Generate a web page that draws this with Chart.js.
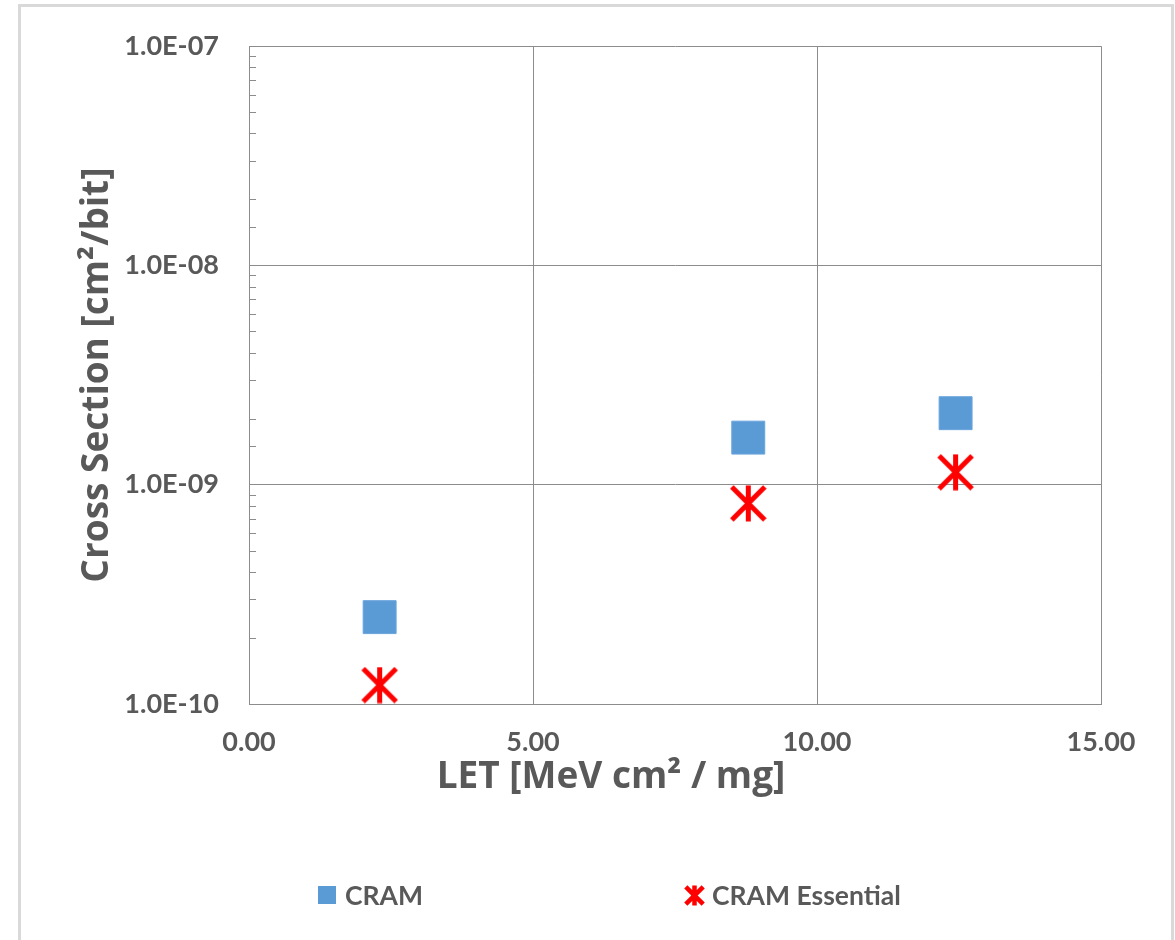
<!DOCTYPE html>
<html><head><meta charset="utf-8">
<script src="https://cdn.jsdelivr.net/npm/chart.js@4.4.1/dist/chart.umd.min.js"></script>
<style>
html,body{margin:0;padding:0;background:#fff;width:1175px;height:940px;overflow:hidden;}
#wrap{position:relative;width:1175px;height:940px;}
#frame{position:absolute;left:18px;top:4px;width:1156px;height:1000px;box-sizing:border-box;border:3px solid #d9d9d9;border-bottom:none;pointer-events:none;}
#c{position:absolute;left:0;top:0;}
#legend{position:absolute;left:0;top:0;width:1175px;height:940px;pointer-events:none;font-family:Lato, sans-serif;font-weight:bold;font-size:26.5px;color:#595959;}
.li{position:absolute;display:flex;align-items:center;white-space:nowrap;height:36px;line-height:36px;}
</style></head>
<body><div id="wrap"><canvas id="c" width="1175" height="940"></canvas><div id="frame"></div><div id="legend"></div></div>
<script>
// ---- data ----
const letValues = [2.30, 8.79, 12.44];
const cramValues = [2.49e-10, 1.64e-9, 2.12e-9];
const cramEssentialValues = [1.22e-10, 8.22e-10, 1.14e-9];
const seriesNames = ['CRAM', 'CRAM Essential'];
const xTickValues = [0, 5, 10, 15];
const yDecadeValues = [1e-10, 1e-9, 1e-8, 1e-7];
const xTitleText = 'LET [MeV cm\u00B2 / mg]';
const yTitleText = 'Cross Section [cm\u00B2/bit]';

// ---- styles ----
const TEXT = '#595959';
const GRID = '#8c8c8c';
const FONT = 'Lato, sans-serif';
const TITLE_FONT = '"Open Sans", sans-serif';

function isDecade(v){
  const e = Math.round(Math.log10(v));
  return Math.abs(v / Math.pow(10, e) - 1) < 1e-6;
}
function fmtDecade(v){
  const e = Math.round(Math.log10(v));
  const a = Math.abs(e);
  return '1.0E' + (e < 0 ? '-' : '+') + (a < 10 ? '0' + a : '' + a);
}
function makeStar(size, lw){
  const c = document.createElement('canvas');
  c.width = size; c.height = size;
  const g = c.getContext('2d');
  g.strokeStyle = '#ff0000'; g.lineWidth = lw; g.lineCap = 'butt';
  const m = lw * 0.4, s = size;
  g.beginPath();
  g.moveTo(m, m); g.lineTo(s - m, s - m);
  g.moveTo(s - m, m); g.lineTo(m, s - m);
  g.moveTo(s / 2, 0.5); g.lineTo(s / 2, s - 0.5);
  g.stroke();
  return c;
}
const starImg = makeStar(37, 5);
const starLegendImg = makeStar(21, 4.5);

const minorTicks = {
  id: 'minorTicks',
  beforeDatasetsDraw(chart){
    const y = chart.scales.y, ctx = chart.ctx, left = chart.chartArea.left;
    ctx.save();
    ctx.strokeStyle = GRID; ctx.lineWidth = 1;
    y.ticks.forEach(t => {
      if (!isDecade(t.value)) {
        const py = Math.round(y.getPixelForValue(t.value)) + 0.5;
        ctx.beginPath(); ctx.moveTo(left, py); ctx.lineTo(left + 7, py); ctx.stroke();
      }
    });
    ctx.restore();
  }
};

const xTitle = {
  id: 'xTitle',
  afterDraw(chart){
    const ctx = chart.ctx;
    ctx.save();
    ctx.font = 'bold 37px ' + TITLE_FONT;
    ctx.fillStyle = TEXT;
    ctx.textAlign = 'center';
    ctx.textBaseline = 'alphabetic';
    ctx.fillText(xTitleText, 611, 788);
    ctx.restore();
  }
};

const legendLeft = [318, 684];
const legendTop = 877;
const htmlLegend = {
  id: 'htmlLegend',
  afterUpdate(chart){
    const box = document.getElementById('legend');
    box.innerHTML = '';
    const items = Chart.defaults.plugins.legend.labels.generateLabels(chart);
    items.forEach((it, i) => {
      const d = document.createElement('div');
      d.className = 'li';
      d.style.left = legendLeft[i] + 'px';
      d.style.top = legendTop + 'px';
      let mk;
      if (i === 0) {
        mk = document.createElement('div');
        mk.style.cssText = 'width:18px;height:18px;background:' + it.fillStyle + ';margin-right:9px;';
      } else {
        mk = starLegendImg;
        mk.style.marginRight = '7px';
      }
      d.appendChild(mk);
      const sp = document.createElement('span');
      sp.textContent = it.text;
      d.appendChild(sp);
      box.appendChild(d);
    });
  }
};

const chart = new Chart(document.getElementById('c'), {
  type: 'scatter',
  data: {
    datasets: [
      {
        label: seriesNames[0],
        data: letValues.map((x, i) => ({x: x, y: cramValues[i]})),
        pointStyle: 'rect', pointRadius: 23.3,
        backgroundColor: '#5b9bd5', borderColor: '#6aa5dc', borderWidth: 1
      },
      {
        label: seriesNames[1],
        data: letValues.map((x, i) => ({x: x, y: cramEssentialValues[i]})),
        pointStyle: starImg, pointRadius: 18,
        backgroundColor: '#ff0000', borderColor: '#ff0000'
      }
    ]
  },
  options: {
    responsive: false, animation: false, events: [],
    layout: {padding: {left: 75, right: 74, top: 44, bottom: 136}},
    plugins: {legend: {display: false}, tooltip: {enabled: false}},
    scales: {
      x: {
        type: 'linear', min: xTickValues[0], max: xTickValues[xTickValues.length - 1],
        afterBuildTicks: s => { s.ticks = xTickValues.map(v => ({value: v})); },
        ticks: {callback: v => Number(v).toFixed(2), font: {family: FONT, weight: 'bold', size: 27}, color: TEXT, padding: 22, maxRotation: 0, autoSkip: false},
        grid: {color: GRID, drawTicks: false, lineWidth: 1},
        border: {color: GRID},
        afterFit: s => { s.height = 100; }
      },
      y: {
        type: 'logarithmic', min: yDecadeValues[0], max: yDecadeValues[yDecadeValues.length - 1],
        ticks: {callback: v => isDecade(v) ? fmtDecade(v) : '', autoSkip: false, font: {family: FONT, weight: 'bold', size: 27}, color: TEXT, padding: 30},
        grid: {color: c => (c.tick && isDecade(c.tick.value)) ? GRID : 'rgba(0,0,0,0)', drawTicks: false, lineWidth: 1},
        border: {color: GRID},
        title: {display: true, text: yTitleText, font: {family: TITLE_FONT, weight: 'bold', size: 37}, color: TEXT, padding: 0},
        afterFit: s => { s.width = 174; }
      }
    }
  },
  plugins: [minorTicks, xTitle, htmlLegend]
});
</script>
</body></html>
